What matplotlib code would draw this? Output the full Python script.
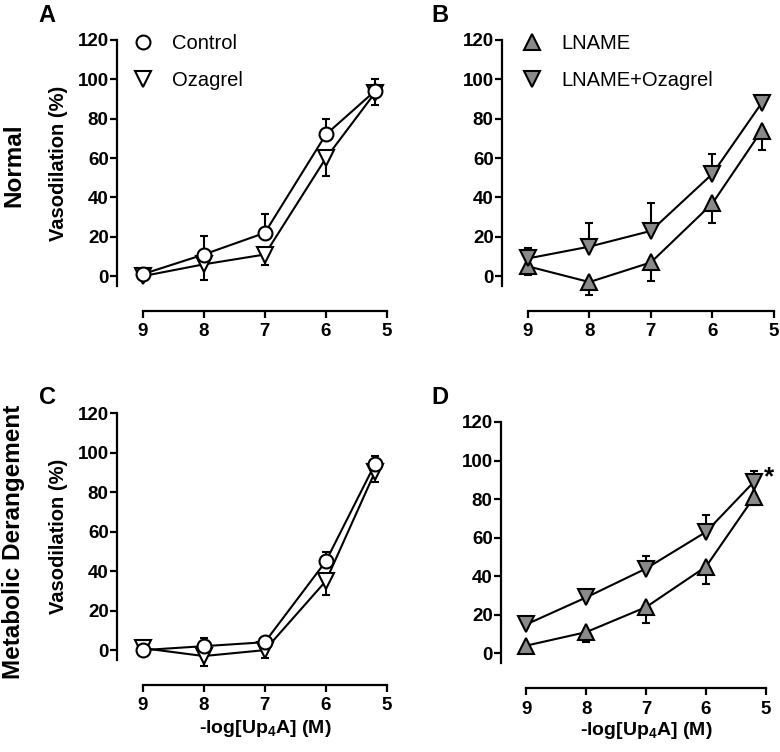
import matplotlib
matplotlib.use('Agg')
import matplotlib.pyplot as plt
from matplotlib.lines import Line2D

plt.rcParams['font.family'] = ['Liberation Sans', 'DejaVu Sans']
plt.rcParams['font.weight'] = 'bold'
plt.rcParams['axes.labelweight'] = 'bold'
plt.rcParams['mathtext.default'] = 'regular'

# -log[Up4A] concentrations
conc = [9, 8, 7, 6, 5.2]

# panel A - normal
a_control = [1, 11, 22, 72, 94]
a_control_err = [1, 9.5, 9.5, 8, 6]
a_ozagrel = [0, 6, 11, 60, 93]
a_ozagrel_err = [0.5, 8, 5.5, 9, 6]

# panel B - normal, LNAME
b_lname = [5, -3, 7, 37, 74]
b_lname_err = [4.5, 6.5, 9.5, 10, 10]
b_lname_oz = [9, 15, 23, 52, 88]
b_lname_oz_err = [5.5, 12, 14, 10, 1.5]

# panel C - metabolic derangement
c_control = [0, 2, 4, 45, 94]
c_control_err = [0.5, 4, 1.5, 4.5, 4]
c_ozagrel = [1, -3, 0, 35, 90]
c_ozagrel_err = [0.5, 5, 4, 7, 5]

# panel D - metabolic derangement, LNAME
d_lname = [4, 11, 24, 45, 81]
d_lname_err = [1, 5, 8, 9, 4]
d_lname_oz = [15, 29, 44, 63, 89]
d_lname_oz_err = [1, 4, 6.5, 9, 5.5]

yticks = [0, 20, 40, 60, 80, 100, 120]
xticks = [9, 8, 7, 6, 5]

GRAY = '#8a8a8a'
W, H = 780.0, 752.0


def make_axes(left, right, top, bottom):
    ax = fig.add_axes([left / W, 1 - bottom / H, (right - left) / W, (bottom - top) / H])
    ax.set_xlim(9.42, 5)
    ax.set_ylim(-5, 120)
    ax.set_yticks(yticks)
    ax.set_xticks(xticks)
    for s in ['top', 'right']:
        ax.spines[s].set_visible(False)
    ax.spines['left'].set_linewidth(1.6)
    ax.spines['bottom'].set_linewidth(1.6)
    ax.spines['bottom'].set_position(('outward', 18))
    ax.spines['bottom'].set_bounds(9, 5)
    ax.tick_params(axis='both', length=5, width=1.6, labelsize=13.5)
    ax.tick_params(axis='y', pad=1)
    ax.tick_params(axis='x', pad=4)
    return ax


def draw(ax, y, err, marker, face, upper):
    if upper:
        yerr = [[0] * len(err), err]
    else:
        yerr = [err, [0] * len(err)]
    ax.errorbar(conc, y, yerr=yerr, fmt='-', color='k', lw=1.5, marker=marker,
                ms=11 if marker != 'o' else 10, mfc=face, mec='k', mew=1.5,
                ecolor='k', elinewidth=1.5, capsize=3, capthick=1.5, clip_on=False)


def legend(ax, x, entries):
    handles = [Line2D([], [], ls='none', marker=m, ms=11 if m != 'o' else 10,
                      mfc=f, mec='k', mew=1.5, label=l) for m, f, l in entries]
    ax.legend(handles=handles, loc='upper left', bbox_to_anchor=(x / W, 1 - 34 / H),
              bbox_transform=fig.transFigure, frameon=False, borderpad=0,
              borderaxespad=0, handlelength=1.0, handletextpad=0.95,
              labelspacing=0.88, prop={'size': 14.5, 'weight': 'normal'})


fig = plt.figure(figsize=(7.8, 7.52), dpi=100)

axA = make_axes(117, 387, 40, 286)
draw(axA, a_ozagrel, a_ozagrel_err, 'v', 'white', False)
draw(axA, a_control, a_control_err, 'o', 'white', True)
legend(axA, 133, [('o', 'white', 'Control'), ('v', 'white', 'Ozagrel')])

axB = make_axes(502, 774, 40, 286)
draw(axB, b_lname, b_lname_err, '^', GRAY, False)
draw(axB, b_lname_oz, b_lname_oz_err, 'v', GRAY, True)
legend(axB, 522, [('^', GRAY, 'LNAME'), ('v', GRAY, 'LNAME+Ozagrel')])

axC = make_axes(117, 387, 413, 660)
draw(axC, c_ozagrel, c_ozagrel_err, 'v', 'white', False)
draw(axC, c_control, c_control_err, 'o', 'white', True)

axD = make_axes(501, 766, 422, 663)
draw(axD, d_lname, d_lname_err, '^', GRAY, False)
draw(axD, d_lname_oz, d_lname_oz_err, 'v', GRAY, True)
axD.annotate('*', xy=(conc[-1], d_lname_oz[-1]), xytext=(11, 3), textcoords='offset points',
             fontsize=19, ha='center', va='center')

for ax in [axA, axC]:
    ax.set_ylabel('Vasodilation (%)', fontsize=14.5)
    ax.yaxis.set_label_coords(-0.18, 0.5)
for ax in [axC, axD]:
    ax.set_xlabel('-log[Up$_4$A] (M)', fontsize=14)
    ax.xaxis.set_label_coords(0.548, -0.235)

fig.text(47 / W, 1 - 15 / H, 'A', fontsize=17, ha='center', va='center')
fig.text(440 / W, 1 - 15 / H, 'B', fontsize=17, ha='center', va='center')
fig.text(47 / W, 1 - 397 / H, 'C', fontsize=17, ha='center', va='center')
fig.text(440 / W, 1 - 398 / H, 'D', fontsize=17, ha='center', va='center')

fig.text(14 / W, 1 - 165 / H, 'Normal', fontsize=17.5, rotation=90, ha='center', va='center')
fig.text(14 / W, 1 - 542 / H, 'Metabolic Derangement', fontsize=17.5, rotation=90,
         ha='center', va='center')

fig.savefig('out.png', dpi=100)
plt.close()
